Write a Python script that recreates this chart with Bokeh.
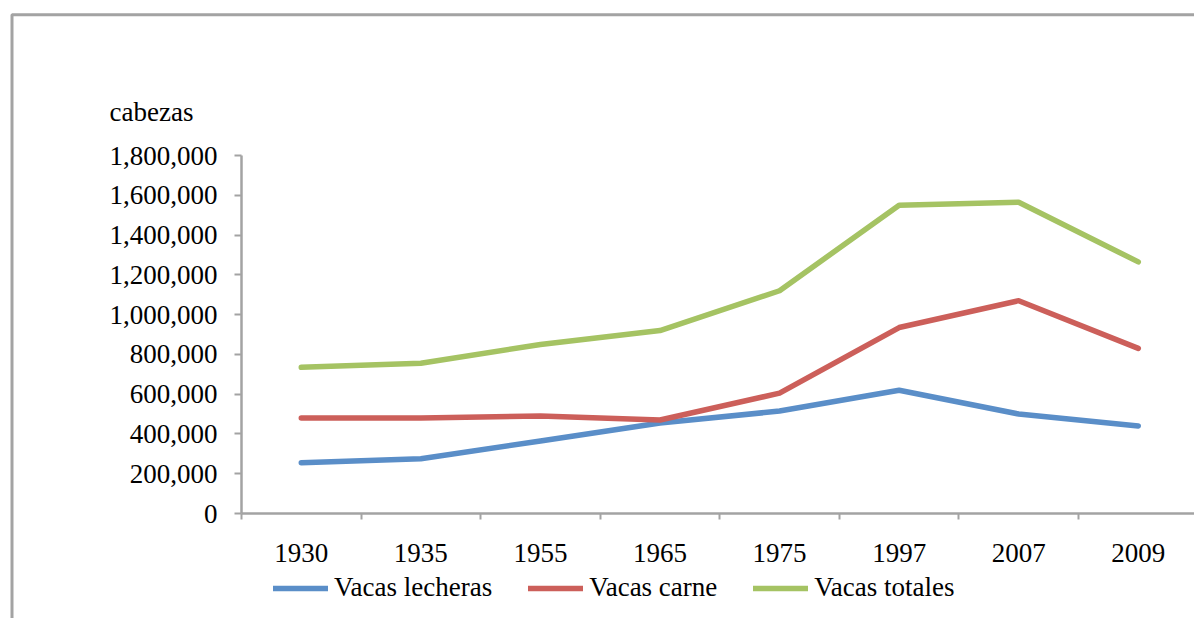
from bokeh.plotting import figure
from bokeh.models import Range1d, FixedTicker, NumeralTickFormatter, BoxAnnotation, Label
from bokeh.embed import file_html
from bokeh.resources import INLINE

years = ["1930", "1935", "1955", "1965", "1975", "1997", "2007", "2009"]
lecheras = [255000, 275000, 365000, 455000, 515000, 620000, 500000, 440000]
carne = [480000, 480000, 490000, 470000, 605000, 935000, 1070000, 830000]
totales = [735000, 755000, 850000, 920000, 1120000, 1550000, 1565000, 1265000]
y_ticks = [0, 200000, 400000, 600000, 800000, 1000000, 1200000, 1400000, 1600000, 1800000]

xs = [i + 0.5 for i in range(len(years))]

FONT = "Liberation Serif"
FS = "27px"
GRAY = "#a3a3a3"
W, H = 1194, 618
AX_X, AX_Y0, AX_Y1 = 241, 513, 155      # pixel placement of the plot area
CAT_W = 119.57                           # pixels per category
PX_Y = 1800000 / (AX_Y0 - AX_Y1)         # data units per pixel (y)

p = figure(width=W, height=H, output_backend="svg", toolbar_location=None,
           x_range=Range1d(-AX_X / CAT_W, (W - AX_X) / CAT_W),
           y_range=Range1d(-(H - AX_Y0) * PX_Y, AX_Y0 * PX_Y),
           min_border=0, min_border_left=0, min_border_right=0,
           min_border_top=0, min_border_bottom=0)
p.outline_line_color = None
p.xgrid.visible = False
p.ygrid.visible = False
p.background_fill_color = "white"
p.border_fill_color = "white"

series = [
    (lecheras, "#5a8ec8", "Vacas lecheras"),
    (carne, "#cc5f5a", "Vacas carne"),
    (totales, "#a5c363", "Vacas totales"),
]
for vals, col, name in series:
    p.line(xs, vals, line_color=col, line_width=5.5, line_cap="round", line_join="round",
           legend_label=name)

# x axis
xa = p.xaxis[0]
xa.fixed_location = 0
xa.bounds = (0, len(years))
xa.ticker = FixedTicker(ticks=xs, minor_ticks=list(range(len(years) + 1)))
xa.major_label_overrides = {x: y for x, y in zip(xs, years)}
xa.major_tick_out = 0
xa.major_tick_in = 0
xa.minor_tick_out = 6
xa.minor_tick_in = 0
xa.minor_tick_line_color = GRAY
xa.minor_tick_line_width = 2
xa.axis_line_color = GRAY
xa.axis_line_width = 2.5
xa.major_label_standoff = 24
xa.major_label_text_font = FONT
xa.major_label_text_font_size = FS
xa.major_label_text_color = "black"

# y axis
ya = p.yaxis[0]
ya.fixed_location = 0
ya.bounds = (0, 1800000)
ya.ticker = FixedTicker(ticks=y_ticks, minor_ticks=[])
ya.formatter = NumeralTickFormatter(format="0,0")
ya.major_tick_out = 7
ya.major_tick_in = 0
ya.major_tick_line_color = GRAY
ya.major_tick_line_width = 2
ya.minor_tick_line_color = None
ya.axis_line_color = GRAY
ya.axis_line_width = 2.5
ya.major_label_standoff = 17
ya.major_label_text_font = FONT
ya.major_label_text_font_size = FS
ya.major_label_text_color = "black"

# outer chart frame (cropped by the picture edge)
p.add_layout(BoxAnnotation(left=11.5, right=3000, top=H - 14.2, bottom=-300,
                           left_units="screen", right_units="screen",
                           top_units="screen", bottom_units="screen",
                           fill_alpha=0, line_color=GRAY, line_alpha=1, line_width=3))

p.add_layout(Label(x=109, y=H - 111, x_units="screen", y_units="screen", text="cabezas",
                   text_font=FONT, text_font_size=FS, text_color="black",
                   text_baseline="alphabetic"))

lg = p.legend[0]
lg.location = (273, 15)
lg.orientation = "horizontal"
lg.padding = 0
lg.margin = 0
lg.spacing = 36
lg.label_standoff = 6
lg.glyph_width = 55
lg.glyph_height = 26
lg.label_height = 26
lg.label_text_font = FONT
lg.label_text_font_size = FS
lg.label_text_color = "black"
lg.border_line_color = None
lg.background_fill_alpha = 0

open("out.html", "w").write(file_html(p, INLINE))
